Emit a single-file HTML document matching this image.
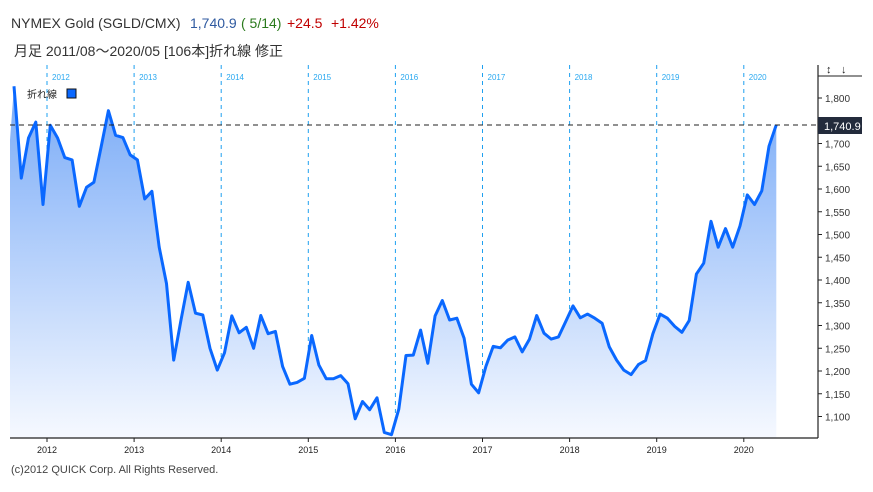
<!DOCTYPE html>
<html><head><meta charset="utf-8"><style>
body{margin:0;background:#fff;width:873px;height:487px;overflow:hidden;font-family:"Liberation Sans","Noto Sans CJK JP",sans-serif}
</style></head><body>
<svg id="s" width="873" height="487" xmlns="http://www.w3.org/2000/svg" font-family="Liberation Sans, Noto Sans CJK JP, sans-serif">
<defs><linearGradient id="g" x1="0" y1="0" x2="0" y2="1"><stop offset="0" stop-color="#78aaf7"/><stop offset="1" stop-color="#f6f9ff"/></linearGradient></defs>
<text x="11" y="28" font-size="14" fill="#333">NYMEX Gold (SGLD/CMX)</text>
<text x="190" y="28" font-size="14" fill="#2f5aa0">1,740.9</text>
<text x="241" y="28" font-size="14" fill="#2a7a1c">( 5/14)</text>
<text x="287" y="28" font-size="14" fill="#c00000">+24.5</text>
<text x="331" y="28" font-size="14" fill="#c00000">+1.42%</text>
<text x="14" y="56" font-size="14" fill="#333">月足  2011/08～2020/05 [106本]折れ線 修正</text>
<g id="grid"></g>
<path id="area" fill="url(#g)"/>
<path id="line" fill="none" stroke="#0a68ff" stroke-width="3" stroke-linejoin="round"/>
<line x1="10" y1="125" x2="818" y2="125" stroke="#222" stroke-dasharray="5,4"/>
<line x1="10" y1="438" x2="818" y2="438" stroke="#222" stroke-width="1.2"/>
<line x1="818" y1="65" x2="818" y2="438" stroke="#222" stroke-width="1.2"/>
<line x1="818" y1="76" x2="862" y2="76" stroke="#222"/>
<text x="826" y="73" font-size="11" fill="#222">↕</text><text x="841" y="73" font-size="11" fill="#222">↓</text>
<rect x="818" y="117" width="44" height="17" fill="#232b3c"/>
<text x="824" y="130" font-size="11" fill="#fff">1,740.9</text>
<text x="27" y="98" font-size="10" fill="#222">折れ線</text>
<rect x="67" y="89" width="9" height="9" fill="#0a68ff" stroke="#111"/>
<text x="11" y="473" font-size="11" fill="#444">(c)2012 QUICK Corp. All Rights Reserved.</text>
<g id="ax"></g>
</svg>
<script>
var d=[1826,1624,1712,1747,1566,1740,1712,1669,1664,1562,1604,1615,1692,1772,1718,1713,1675,1664,1578,1595,1472,1392,1224,1312,1395,1327,1323,1250,1202,1240,1321,1284,1296,1250,1322,1282,1287,1210,1171,1175,1184,1278,1213,1183,1183,1190,1172,1095,1133,1115,1141,1065,1060,1116,1234,1235,1290,1217,1321,1355,1312,1316,1272,1171,1152,1210,1254,1251,1268,1275,1242,1270,1322,1283,1270,1275,1309,1343,1317,1325,1316,1305,1253,1224,1202,1192,1214,1223,1282,1325,1316,1298,1285,1311,1413,1437,1529,1472,1513,1472,1519,1587,1566,1596,1694,1741];
function Y(v){return 98+(1800-v)*0.455}
var p="",xs=[];for(var i=0;i<d.length;i++){var x=14+i*7.26;xs.push(x);p+=(i?"L":"M")+x.toFixed(1)+","+Y(d[i]).toFixed(1)}
document.getElementById("line").setAttribute("d",p);
document.getElementById("area").setAttribute("d","M10,140L"+p.slice(1)+"L"+xs[xs.length-1]+",438L10,438Z");
var g="",a="";
for(var k=0;k<9;k++){var x=47+k*87.1;g+='<line x1="'+x+'" y1="65" x2="'+x+'" y2="438" stroke="#1ea0f0" stroke-dasharray="4,4"/><text x="'+(x+5)+'" y="80" font-size="8" fill="#29a8f0">'+(2012+k)+'</text>';
a+='<line x1="'+x+'" y1="438" x2="'+x+'" y2="442" stroke="#222"/><text x="'+x+'" y="453" font-size="9" fill="#222" text-anchor="middle">'+(2012+k)+'</text>';}
for(var v=1100;v<=1800;v+=50){var y=Y(v);if(v==1750)continue;a+='<line x1="818" y1="'+y+'" x2="822" y2="'+y+'" stroke="#222"/><text x="825" y="'+(y+4)+'" font-size="10" fill="#333">'+(v/1000|0)+','+String(v%1000).padStart(3,"0")+'</text>';}
document.getElementById("grid").innerHTML=g;document.getElementById("ax").innerHTML=a;
</script>
</body></html>
